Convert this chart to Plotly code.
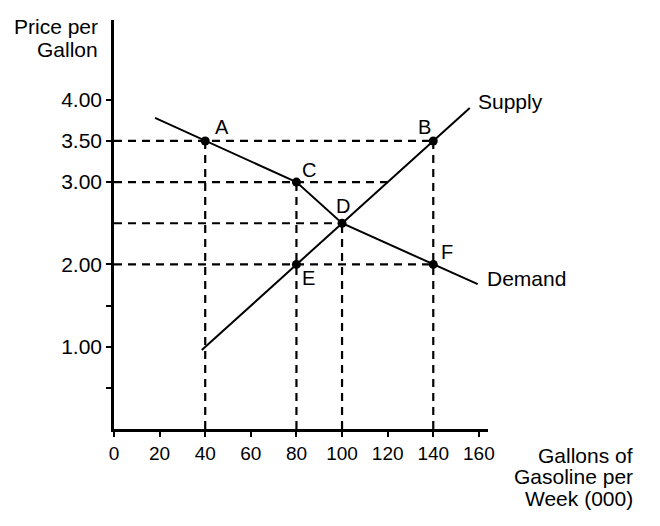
import plotly.graph_objects as go

# Data
supply_q = [38.5, 156]
supply_p = [0.96, 3.9]
demand_q = [18, 40, 80, 100, 140, 159.5]
demand_p = [3.78, 3.5, 3.0, 2.5, 2.0, 1.76]

point_names = ["A", "B", "C", "D", "E", "F"]
point_q = [40, 140, 80, 100, 80, 140]
point_p = [3.5, 3.5, 3.0, 2.5, 2.0, 2.0]

# dashed guide lines: horizontal (price, q_end), vertical (q, p_end)
h_guides = [(3.5, 140), (3.0, 120), (2.5, 100), (2.0, 140)]
v_guides = [(40, 3.5), (80, 3.0), (100, 2.5), (140, 3.5)]

x_ticks = [0, 20, 40, 60, 80, 100, 120, 140, 160]
y_ticks = [0.5, 1.0, 1.5, 2.0, 3.0, 3.5, 4.0]
y_tick_text = ["", "1.00", "", "2.00", "3.00", "3.50", "4.00"]

y_title_lines = ["Price per", "Gallon"]
x_title_lines = ["Gallons of", "Gasoline per", "Week (000)"]

FONT = "Liberation Sans, Arial, sans-serif"

fig = go.Figure()

for p, qe in h_guides:
    fig.add_trace(go.Scatter(x=[0, qe], y=[p, p], mode="lines",
                             line=dict(color="#000", width=2.2, dash="8px,6px"),
                             hoverinfo="skip", showlegend=False))
for q, pe in v_guides:
    fig.add_trace(go.Scatter(x=[q, q], y=[0, pe], mode="lines",
                             line=dict(color="#000", width=2.2, dash="8px,6px"),
                             hoverinfo="skip", showlegend=False))

fig.add_trace(go.Scatter(x=supply_q, y=supply_p, mode="lines",
                         line=dict(color="black", width=2), showlegend=False))
fig.add_trace(go.Scatter(x=demand_q, y=demand_p, mode="lines",
                         line=dict(color="black", width=2), showlegend=False))
fig.add_trace(go.Scatter(x=point_q, y=point_p, mode="markers",
                         marker=dict(color="black", size=9), showlegend=False))

# point labels offsets (pixels)
offsets = {"A": (17, 14), "B": (-9, 14), "C": (13, 12), "D": (1, 17),
           "E": (12, -14), "F": (14, 12)}
for n, q, p in zip(point_names, point_q, point_p):
    dx, dy = offsets[n]
    fig.add_annotation(x=q, y=p, text=n, showarrow=False, xshift=dx, yshift=dy,
                       font=dict(family=FONT, size=20, color="black"))

fig.add_annotation(x=supply_q[-1], y=supply_p[-1], text="Supply", showarrow=False,
                   xanchor="left", xshift=6, yshift=7,
                   font=dict(family=FONT, size=21, color="black"))
fig.add_annotation(x=demand_q[-1], y=demand_p[-1], text="Demand", showarrow=False,
                   xanchor="left", xshift=7, yshift=6,
                   font=dict(family=FONT, size=21, color="black"))

for i, t in enumerate(y_title_lines):
    fig.add_annotation(xref="paper", yref="paper", x=0, y=1, xanchor="right", yanchor="middle",
                       xshift=-14, yshift=-6 - 23 * i, showarrow=False, text=t,
                       font=dict(family=FONT, size=21, color="black"))
for i, t in enumerate(x_title_lines):
    fig.add_annotation(xref="paper", yref="paper", x=1, y=0, xanchor="right", yanchor="middle",
                       xshift=147, yshift=-26 - 21.5 * i, showarrow=False, text=t,
                       font=dict(family=FONT, size=21, color="black"))

fig.update_xaxes(range=[0, 164], showline=True, linecolor="black", linewidth=2.5,
                 showgrid=False, zeroline=False, ticks="outside", ticklen=5, tickwidth=2,
                 tickcolor="black", tickvals=x_ticks,
                 tickfont=dict(family=FONT, size=19, color="black"))
fig.update_yaxes(range=[0, 4.97], showline=True, linecolor="black", linewidth=2.5,
                 showgrid=False, zeroline=False, ticks="outside", ticklen=5, tickwidth=2,
                 tickcolor="black", tickvals=y_ticks, ticktext=y_tick_text,
                 tickfont=dict(family=FONT, size=21, color="black"))

fig.update_layout(width=660, height=526, margin=dict(l=114, r=172, t=20, b=97),
                  plot_bgcolor="white", paper_bgcolor="white", showlegend=False)

fig.write_html("out.html")
